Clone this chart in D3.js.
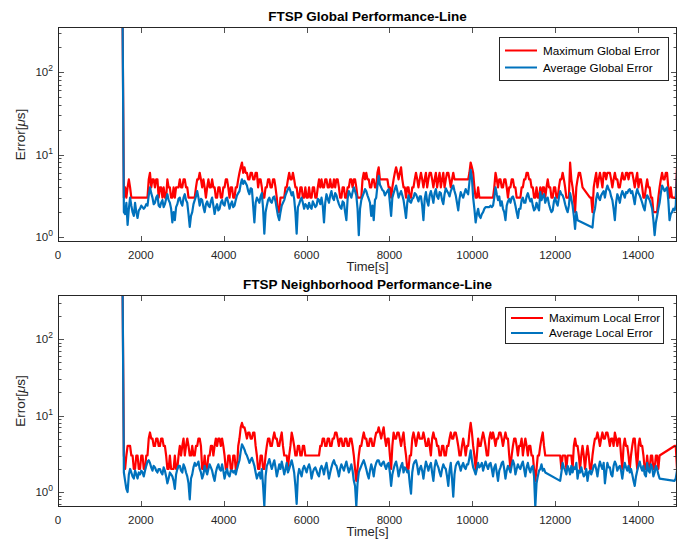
<!DOCTYPE html>
<html><head><meta charset="utf-8">
<script src="https://cdn.jsdelivr.net/npm/d3@7"></script>
<style>
body{margin:0;background:#fff;}
svg{display:block;font-family:"Liberation Sans",Arial,Helvetica,sans-serif;}
</style>
</head><body>
<svg id="chart" width="683" height="540"></svg>
<script>
// ---- sampling of the time axis (seconds) ----
const timeStart = 1560, timeStep = 30;
const xTicks = [0, 2000, 4000, 6000, 8000, 10000, 12000, 14000];
const yTicks = [1, 10, 100];
const xDomain = [0, 14940];
const globalYDomain = [0.87, 351];
const localYDomain = [0.637, 376];

// ---- FTSP Global Performance ----
const globalMax = [
350,3,4,3,4,5,4,3,3,3,3,3,3,3,3,3,3,3,3,3,3,5,6,4,5,5,4,5,5,3,4,4,3,4,3,3,5,4,4,3,
3,4,3,4,4,4,5,4,4,5,5,4,4,3,3,3,3,3,3,4,5,5,6,5,4,5,4,3,4,5,4,4,5,4,4,3,3,4,4,3,
3,4,4,5,5,4,3,4,4,3,3,4,4,5,6,7,8,6,7,6,6,5,5,6,6,5,5,6,6,4,5,5,4,3,3,4,4,5,5,4,
4,5,5,4,3,2,2,3,3,3,3,4,4,5,6,5,5,6,5,4,4,3,3,4,4,3,3,4,3,3,4,3,3,4,4,3,3,4,5,4,
5,4,4,5,5,4,4,5,4,4,5,4,5,5,4,3,3,4,4,3,3,4,4,5,5,4,5,5,4,3,3,3,3,5,6,5,6,5,5,4,
4,5,5,4,4,6,7,5,5,5,5,5,5,5,4,4,3,4,5,6,7,6,5,6,7,5,4,4,3,4,4,3,3,4,4,5,6,5,4,5,
6,5,4,5,6,4,5,6,6,5,4,5,6,4,5,6,4,5,6,4,5,6,6,5,4,5,6,5,5,5,5,5,5,5,5,5,5,5,5,6,
8,7,6,4,3,3,4,3,3,3,3,3,3,3,3,3,3,3,3,4,6,5,4,5,5,4,4,5,5,4,3,4,4,5,5,4,4,3,3,3,
3,4,4,5,5,6,6,5,5,4,4,3,3,4,3,3,4,3,4,4,3,4,5,4,4,3,3,4,4,3,3,4,5,5,6,5,4,3,3,3,
8,5,4,3,2,4,5,6,6,5,4,null,null,null,null,null,3,3,2,4,5,6,4,5,6,5,4,6,6,5,6,6,6,5,4,5,6,5,5,4,
4,5,6,5,5,6,6,5,6,6,6,5,4,5,6,4,5,5,4,3,3,4,5,4,4,3,3,2,2,2,2,3,4,5,6,5,5,6,6,4,
3,4,3,3,3,3,7
];
const globalAvg = [
350,2.0,1.9,2.6,1.4,2.2,3.0,2.4,2.0,1.8,2.6,2.0,1.7,2.1,2.2,2.4,2.3,2.2,2.3,2.5,2.4,3.2,4.0,3.4,3.0,2.5,2.6,3.0,3.2,2.4,2.3,2.6,2.8,2.3,2.5,2.9,3.3,2.8,2.6,2.2,
1.5,2.0,1.6,2.3,2.5,2.9,3.0,2.6,2.4,3.0,3.3,2.8,2.6,1.9,1.33,1.8,2.0,2.5,2.8,3.1,3.6,3.0,2.4,2.9,2.8,2.3,2.0,2.5,2.7,2.4,2.3,2.7,3.0,2.4,1.9,2.3,2.5,2.1,2.2,2.6,
2.8,2.5,2.4,2.9,3.0,2.6,2.2,2.5,2.7,2.3,2.4,2.8,3.2,3.4,3.6,4.4,5.0,4.4,4.8,4.5,4.2,3.6,3.3,3.9,3.8,2.4,1.5,2.6,3.0,2.8,2.6,3.1,3.4,2.2,1.1,2.0,2.4,2.8,3.0,2.7,
2.6,3.0,3.1,2.7,2.2,1.8,1.6,2.0,2.4,2.6,2.8,3.2,3.5,3.8,4.0,3.6,3.2,3.5,2.9,2.0,1.1,2.3,2.5,2.8,3.0,2.6,2.2,2.5,2.4,2.2,2.6,2.3,2.2,2.7,2.5,2.3,2.4,2.9,2.8,2.5,
3.0,2.4,1.5,2.6,3.3,2.9,2.6,3.2,3.6,3.0,2.8,3.4,3.2,2.8,2.5,2.3,2.2,2.7,2.6,2.0,1.6,2.9,3.6,3.3,3.0,3.5,4.0,3.6,3.2,2.2,1.05,2.2,2.8,3.1,3.4,3.8,3.6,3.2,2.9,2.6,
1.8,2.4,1.6,2.8,3.0,4.2,5.5,4.3,4.0,3.7,3.6,3.2,3.4,3.6,3.8,2.6,1.8,3.0,3.4,3.8,4.2,3.6,3.0,3.3,3.6,3.2,2.8,2.2,1.7,2.6,3.2,2.7,2.6,2.9,3.0,3.4,3.3,3.0,2.7,3.1,
3.1,2.4,1.6,2.9,3.5,2.7,2.4,3.2,3.6,3.1,2.6,3.4,3.8,3.1,2.9,3.5,3.4,2.8,2.5,3.3,3.9,3.6,3.4,3.1,3.6,3.9,4.2,3.6,3.2,2.6,2.1,2.9,3.5,3.2,3.0,3.4,3.8,3.5,3.3,4.6,
6.5,5.2,3.0,2.2,1.5,1.9,2.2,1.8,1.7,1.9,2.0,2.2,2.3,2.3,2.3,2.3,2.4,2.3,2.4,3.0,4.0,3.3,2.8,3.1,2.4,2.7,2.2,2.0,1.6,2.4,2.7,2.9,2.6,3.0,3.1,2.8,2.4,2.0,1.7,2.2,
2.2,2.8,3.0,2.6,2.6,3.1,3.4,3.0,2.7,2.9,2.4,2.1,2.2,2.6,2.3,2.1,3.5,2.8,3.1,3.3,2.6,2.9,3.0,2.5,2.2,2.0,2.1,2.7,3.0,2.6,2.4,3.0,3.6,3.3,3.2,2.9,2.5,2.2,2.0,2.4,
3.4,2.9,2.4,1.8,1.25,2.0,1.6,null,null,null,null,null,null,null,null,null,null,null,1.3,1.9,2.2,2.9,3.4,3.0,2.8,3.2,3.4,3.6,3.0,3.7,4.2,3.8,3.6,3.1,2.8,2.2,1.6,2.6,3.3,3.0,
2.6,3.2,3.6,3.3,3.0,3.5,3.4,3.7,3.8,3.4,3.6,3.0,2.5,3.3,3.8,3.4,3.2,2.9,2.6,2.3,2.1,2.8,3.2,3.0,2.8,2.5,2.2,1.6,1.05,1.5,1.8,2.2,2.6,3.4,4.2,3.9,3.6,3.8,4.0,2.8,
1.6,1.9,2.0,2.2,2.1,2.4,5.8
];

// ---- FTSP Neighborhood Performance ----
const localMax = [
376,3,2,3,4,4,4,3,3,2,2,3,3,2,2,3,3,2,2,3,3,5,6,5,5,4,4,5,5,4,4,5,5,4,4,3,2,2,3,2,
2,2,3,2,2,3,4,3,4,5,3,4,5,4,3,3,4,3,3,4,4,5,5,4,2,2,3,2,2,3,3,4,4,3,4,5,4,5,5,4,
5,4,3,2,2,3,3,2,2,3,3,2,2,4,5,7,8,7,7,6,5,6,6,5,5,6,6,4,3,2,2,3,3,2,2,3,4,5,5,4,
4,5,6,5,5,4,4,5,6,4,3,3,3,2,3,4,6,5,4,3,3,4,4,3,3,4,4,3,3,3,3,3,3,3,3,3,3,3,3,4,
4,5,5,4,4,5,5,4,4,5,5,6,6,5,4,5,5,4,4,5,5,4,4,5,5,4,3,2,1.4,2,3,4,4,5,6,5,5,4,4,5,
5,4,4,5,6,6,7,6,5,6,7,5,4,5,5,3,2,4,6,5,5,6,6,5,4,5,6,4,3,2,2,3,3,5,6,5,4,5,6,5,
5,5,6,5,4,4,5,4,3,5,6,5,5,4,4,3,3,4,4,3,3,4,4,5,6,5,5,6,6,5,4,3,3,4,5,4,3,4,4,6,
8,6,4,3,2,3,5,4,4,5,6,5,4,3,3,5,6,5,6,5,4,5,5,6,6,5,4,5,6,5,5,3,2,3,4,5,5,4,3,4,
4,5,3,4,5,4,3,4,4,3,3,2,1.4,2,3,3,4,5,6,4,3,null,null,null,null,null,null,null,null,null,null,null,3,2,3,3,3,2,3,3,
3,3,2,4,5,4,4,3,2,3,4,3,2,3,4,3,2,2,3,4,5,5,6,5,4,5,6,5,5,6,6,5,4,5,5,4,6,5,4,5,
5,3,2,4,5,4,4,3,2,3,4,5,5,3,2,4,5,4,4,3,2,2,3,2,2,3,3,2,2,3,3,2,3,null,null,null,null,null,null,null,
null,null,null,null,4,4,2
];
const localAvg = [
376,1.8,1.4,1.1,1.0,1.7,2.0,1.8,1.6,1.5,1.9,1.7,1.5,1.8,1.7,1.9,1.8,1.6,1.9,2.2,2.5,2.6,2.4,2.1,1.9,2.2,2.1,1.9,1.8,2.0,2.0,1.8,1.7,2.1,1.9,1.6,1.3,1.5,1.8,1.7,
1.6,1.4,1.1,1.7,2.0,2.2,2.2,1.9,1.8,2.3,2.1,1.8,1.6,1.3,0.8,1.5,1.7,2.1,2.4,2.2,2.3,2.5,2.0,1.8,1.5,1.7,2.2,1.9,1.7,2.0,2.3,2.1,1.9,1.6,1.4,1.8,2.1,2.3,2.0,1.9,
2.3,1.9,1.5,1.8,2.0,1.7,1.6,1.9,1.9,1.8,1.9,1.7,2.0,2.3,2.6,3.4,4.2,3.9,3.6,3.2,3.0,2.7,2.4,2.6,2.8,2.5,2.2,1.8,1.5,1.7,1.8,1.5,2.0,1.2,0.65,1.6,2.2,2.4,2.7,2.3,
2.0,2.3,2.6,2.1,1.6,1.9,2.3,2.0,2.5,2.1,1.7,2.0,2.4,1.8,2.0,2.3,2.6,2.2,1.8,1.2,0.7,1.6,2.0,1.8,1.6,2.0,2.2,2.0,1.8,2.1,2.3,2.0,1.5,1.8,2.0,2.1,1.9,1.7,1.6,2.0,
2.2,2.0,1.7,2.1,2.4,1.9,1.5,1.8,2.1,2.4,2.6,2.3,2.2,1.9,1.6,2.0,2.3,2.1,1.9,2.2,2.5,2.1,1.8,2.0,2.3,1.9,1.4,1.2,0.65,1.3,1.8,2.0,2.2,2.4,2.6,2.3,2.0,1.7,1.5,1.9,
2.3,2.0,1.6,2.1,2.4,2.6,2.6,2.3,2.2,2.4,2.5,2.2,2.0,2.3,2.4,1.8,1.2,1.7,2.0,2.3,2.5,2.1,1.6,1.9,2.2,2.4,1.8,2.1,2.0,1.8,1.9,1.3,0.95,1.8,2.3,2.5,2.6,2.2,1.7,2.0,
2.2,1.9,1.5,2.0,2.5,2.2,1.9,2.2,2.4,1.8,1.4,2.1,2.6,2.3,2.1,1.8,1.6,2.0,2.3,2.1,2.0,1.6,1.2,1.9,2.4,1.5,0.87,1.7,2.2,2.4,2.5,2.2,1.9,2.2,2.4,2.1,2.0,2.3,2.3,2.8,
3.5,2.6,2.1,1.9,1.7,2.0,2.4,2.1,2.2,2.4,1.9,2.2,2.5,2.2,2.0,2.3,2.4,2.0,1.6,2.1,2.3,1.8,1.4,1.9,2.1,2.4,2.5,2.0,1.5,1.9,2.2,2.0,1.8,2.2,2.6,2.3,1.7,2.0,2.3,2.1,
2.0,2.3,2.5,2.0,1.6,2.1,2.4,2.0,1.8,2.1,2.2,1.6,0.64,1.3,1.6,1.9,2.0,2.3,1.9,2.0,1.8,null,null,null,null,null,null,null,null,null,null,null,1.4,1.8,2.4,2.1,1.9,1.7,2.2,2.0,
1.7,2.2,1.8,2.1,2.0,2.4,1.5,1.9,1.8,2.1,1.8,1.6,1.7,2.0,1.4,1.8,1.9,1.7,1.9,2.2,2.3,2.0,1.6,2.1,2.5,2.2,2.0,2.4,1.3,1.8,2.4,2.1,2.1,1.7,1.6,2.2,2.5,2.3,1.9,2.1,
2.2,1.9,1.5,2.0,2.4,2.1,1.9,2.2,1.8,2.0,1.7,1.4,1.2,1.6,1.9,2.2,2.5,2.1,1.9,2.2,1.7,1.6,2.4,1.9,1.8,2.3,2.1,1.6,1.8,2.2,2.0,1.7,1.5,null,null,null,null,null,null,null,
null,null,null,null,1.4,1.5,1.9
];

const panels = [
  {title: "FTSP Global Performance-Line", top: 27, bottom: 242, yDomain: globalYDomain,
   maxS: globalMax, avgS: globalAvg, names: ["Maximum Global Error", "Average Global Error"],
   legend: {x: 499, y: 37, w: 169, h: 43, gap: 17}},
  {title: "FTSP Neighborhood Performance-Line", top: 295, bottom: 507, yDomain: localYDomain,
   maxS: localMax, avgS: localAvg, names: ["Maximum Local Error", "Average Local Error"],
   legend: {x: 505, y: 307, w: 158, h: 36, gap: 15}}
];

const left = 58, right = 677;
const axisColor = "#262626";
const red = "#FF0000", blue = "#0072BD";
const svg = d3.select("#chart");
const x = d3.scaleLinear().domain(xDomain).range([left, right]);

panels.forEach((p, pi) => {
  const y = d3.scaleLog().domain(p.yDomain).range([p.bottom, p.top]);
  const g = svg.append("g");
  const clipId = "clip" + pi;
  svg.append("defs").append("clipPath").attr("id", clipId)
    .append("rect").attr("x", left).attr("y", p.top).attr("width", right - left).attr("height", p.bottom - p.top);

  g.append("rect").attr("x", left).attr("y", p.top).attr("width", right - left).attr("height", p.bottom - p.top)
    .attr("fill", "#fff");

  const pts = s => s.map((v, i) => ({t: timeStart + i * timeStep, v})).filter(d => d.v !== null);
  const line = d3.line().x(d => x(d.t)).y(d => y(d.v));
  const lines = g.append("g").attr("clip-path", `url(#${clipId})`);
  lines.append("path").attr("d", line(pts(p.maxS))).attr("fill", "none").attr("stroke", red)
    .attr("stroke-width", 2.2).attr("stroke-linejoin", "round");
  lines.append("path").attr("d", line(pts(p.avgS))).attr("fill", "none").attr("stroke", blue)
    .attr("stroke-width", 2.2).attr("stroke-linejoin", "round");

  const tk = g.append("g").attr("stroke", axisColor).attr("stroke-width", 0.8);
  xTicks.forEach(t => {
    const xx = Math.round(x(t)) + 0.5;
    tk.append("line").attr("x1", xx).attr("x2", xx).attr("y1", p.bottom).attr("y2", p.bottom - 6);
    tk.append("line").attr("x1", xx).attr("x2", xx).attr("y1", p.top).attr("y2", p.top + 6);
  });
  const minor = [];
  [0.1, 1, 10, 100].forEach(d => { for (let k = 2; k <= 9; k++) { const v = k * d; if (v > p.yDomain[0] && v < p.yDomain[1]) minor.push(v); } });
  minor.forEach(v => {
    const yy = Math.round(y(v)) + 0.5;
    tk.append("line").attr("x1", left).attr("x2", left + 3.5).attr("y1", yy).attr("y2", yy);
    tk.append("line").attr("x1", right).attr("x2", right - 3.5).attr("y1", yy).attr("y2", yy);
  });
  yTicks.forEach(v => {
    const yy = Math.round(y(v)) + 0.5;
    tk.append("line").attr("x1", left).attr("x2", left + 6).attr("y1", yy).attr("y2", yy);
    tk.append("line").attr("x1", right).attr("x2", right - 6).attr("y1", yy).attr("y2", yy);
  });

  g.append("rect").attr("x", left + 0.5).attr("y", p.top + 0.5).attr("width", right - left - 1).attr("height", p.bottom - p.top - 1)
    .attr("fill", "none").attr("stroke", axisColor).attr("stroke-width", 1);

  xTicks.forEach(t => {
    g.append("text").attr("x", x(t)).attr("y", p.bottom + 17).attr("text-anchor", "middle")
      .attr("font-size", 11.5).attr("fill", axisColor).text(t);
  });
  yTicks.forEach(v => {
    const tx = g.append("text").attr("x", left - 5).attr("y", y(v) + 4).attr("text-anchor", "end")
      .attr("font-size", 11.5).attr("fill", axisColor);
    tx.append("tspan").text("10");
    tx.append("tspan").attr("dy", -5).attr("font-size", 8.5).text(Math.round(Math.log10(v)));
  });

  g.append("text").attr("x", (left + right) / 2).attr("y", p.bottom + 29).attr("text-anchor", "middle")
    .attr("font-size", 13).attr("fill", axisColor).text("Time[s]");
  const yl = g.append("text").attr("transform", `translate(25,${(p.top + p.bottom) / 2}) rotate(-90)`)
    .attr("text-anchor", "middle").attr("font-size", 13.5).attr("fill", axisColor);
  yl.append("tspan").text("Error[");
  yl.append("tspan").attr("font-style", "italic").text("\u03BC");
  yl.append("tspan").text("s]");
  g.append("text").attr("x", (left + right) / 2).attr("y", p.top - 6).attr("text-anchor", "middle")
    .attr("font-size", 13.5).attr("font-weight", "bold").attr("fill", "#000").text(p.title);

  const L = p.legend;
  const lg = g.append("g");
  lg.append("rect").attr("x", L.x + 0.5).attr("y", L.y + 0.5).attr("width", L.w).attr("height", L.h)
    .attr("fill", "#fff").attr("stroke", axisColor).attr("stroke-width", 1);
  [red, blue].forEach((c, k) => {
    const cy = L.y + L.h / 2 + (k - 0.5) * L.gap + 0.5;
    lg.append("line").attr("x1", L.x + 6).attr("x2", L.x + 38).attr("y1", cy).attr("y2", cy)
      .attr("stroke", c).attr("stroke-width", 2);
    lg.append("text").attr("x", L.x + 44).attr("y", cy + 4).attr("font-size", 11.7).attr("fill", "#000")
      .text(p.names[k]);
  });
});
// length check (debug)
const lens = [globalMax, globalAvg, localMax, localAvg].map(a => a.length);
if (lens.some(l => l !== 447)) svg.append("text").attr("x", 10).attr("y", 535).attr("fill", "magenta").attr("font-size", 10).text("LEN " + lens.join(","));
</script>
</body></html>
